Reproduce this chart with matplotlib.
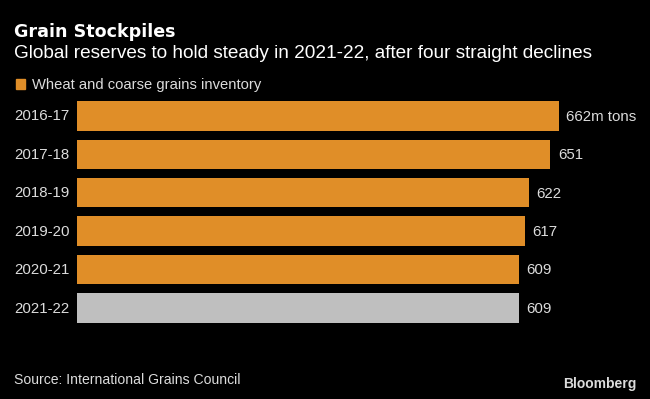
import matplotlib
matplotlib.use("Agg")
import matplotlib.pyplot as plt

categories = ["2016-17", "2017-18", "2018-19", "2019-20", "2020-21", "2021-22"]
values = [662, 651, 622, 617, 609, 609]
value_labels = ["662m tons", "651", "622", "617", "609", "609"]
is_forecast = [False, False, False, False, False, True]

FONT = ["Liberation Sans", "DejaVu Sans"]

ORANGE = "#E08E28"
GRAY = "#BFBFBF"
TXT = "#DCDCDC"
BG = "#000000"

W, H = 650, 399
fig = plt.figure(figsize=(W / 100, H / 100), dpi=100, facecolor=BG)

ax_left, ax_right = 77.3, 640
ax_top, ax_bot = 96.7, 327.0
ax = fig.add_axes([ax_left / W, 1 - ax_bot / H, (ax_right - ax_left) / W, (ax_bot - ax_top) / H])
ax.set_facecolor(BG)
colors = [GRAY if f else ORANGE for f in is_forecast]
ypos = list(range(len(categories)))
ax.barh(ypos, values, height=0.767, color=colors)
ax.set_xlim(14.3, 771.6)
ax.set_ylim(len(categories) - 0.5, -0.5)
for s in ax.spines.values():
    s.set_visible(False)
ax.set_xticks([])
ax.set_yticks([])

for y, v, lab in zip(ypos, values, value_labels):
    ax.annotate(lab, (v, y), xytext=(5.3, -3.6), textcoords="offset points",
                va="baseline", ha="left", color=TXT, fontsize=10.8, family=FONT)
for y, c in zip(ypos, categories):
    fig.text(14 / W, 1 - (120.5 + y * 38.46) / H, c, ha="left", va="baseline",
             color=TXT, fontsize=10.8, family=FONT)

fig.text(14 / W, 1 - 37.3 / H, "Grain Stockpiles", ha="left", va="baseline",
         color="white", fontsize=12.6, fontweight="bold", family=["DejaVu Sans"])
fig.text(14 / W, 1 - 58.5 / H, "Global reserves to hold steady in 2021-22, after four straight declines",
         ha="left", va="baseline", color="white", fontsize=13.7, family=FONT)

fig.patches.append(plt.Rectangle((16 / W, 1 - 89 / H), 9 / W, 10 / H, transform=fig.transFigure,
                                 color=ORANGE, figure=fig))
fig.text(32 / W, 1 - 89.5 / H, "Wheat and coarse grains inventory", ha="left", va="baseline",
         color=TXT, fontsize=10.6, family=FONT)

fig.text(14 / W, 1 - 384.5 / H, "Source: International Grains Council", ha="left", va="baseline",
         color=TXT, fontsize=10.1, family=FONT)
fig.text(637 / W, 1 - 388.3 / H, "Bloomberg", ha="right", va="baseline",
         color=TXT, fontsize=10, fontweight="bold", family=FONT)

fig.savefig("out.png", dpi=100, facecolor=BG)
